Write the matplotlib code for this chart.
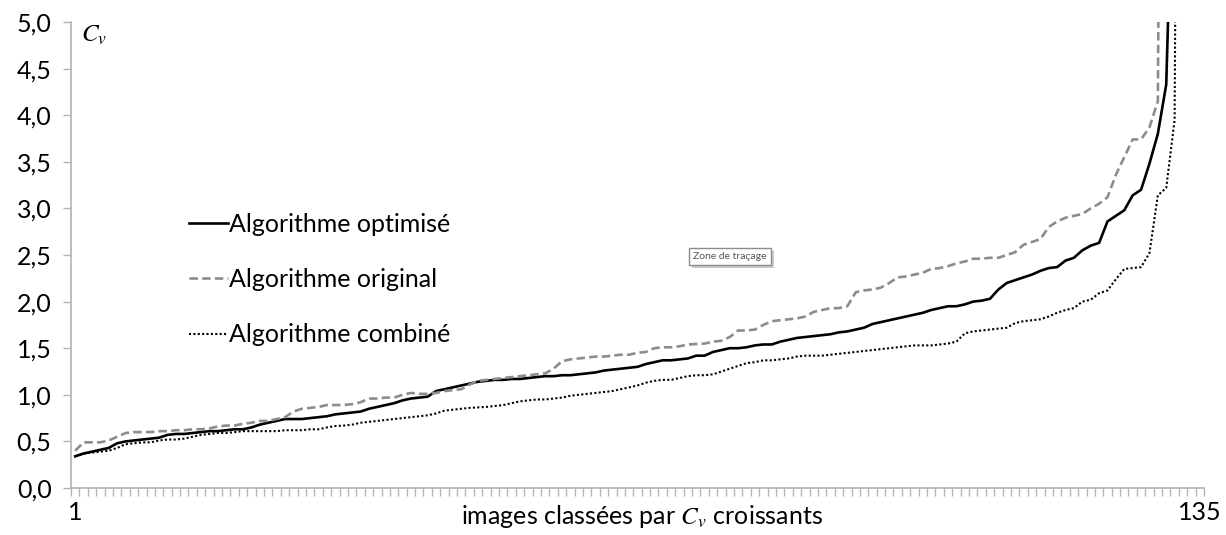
import matplotlib.pyplot as plt
import matplotlib.patheffects as pe
import numpy as np

plt.rcParams['font.family'] = ['Lato', 'DejaVu Sans']
plt.rcParams['mathtext.fontset'] = 'stix'

# images triees par Cv croissant (1..135)
rang = np.arange(1, 136)

cv_optimise = [0.34, 0.37, 0.39, 0.41, 0.43, 0.48, 0.50, 0.51, 0.52, 0.53,
               0.54, 0.57, 0.58, 0.58, 0.59, 0.60, 0.61, 0.61, 0.62, 0.63,
               0.63, 0.65, 0.68, 0.70, 0.72, 0.74, 0.74, 0.74, 0.75, 0.76,
               0.77, 0.79, 0.80, 0.81, 0.82, 0.85, 0.87, 0.89, 0.91, 0.94,
               0.96, 0.97, 0.98, 1.04, 1.06, 1.08, 1.10, 1.12, 1.14, 1.15,
               1.16, 1.16, 1.17, 1.17, 1.18, 1.19, 1.20, 1.20, 1.21, 1.21,
               1.22, 1.23, 1.24, 1.26, 1.27, 1.28, 1.29, 1.30, 1.33, 1.35,
               1.37, 1.37, 1.38, 1.39, 1.42, 1.42, 1.46, 1.48, 1.50, 1.50,
               1.51, 1.53, 1.54, 1.54, 1.57, 1.59, 1.61, 1.62, 1.63, 1.64,
               1.65, 1.67, 1.68, 1.70, 1.72, 1.76, 1.78, 1.80, 1.82, 1.84,
               1.86, 1.88, 1.91, 1.93, 1.95, 1.95, 1.97, 2.00, 2.01, 2.03,
               2.13, 2.20, 2.23, 2.26, 2.29, 2.33, 2.36, 2.37, 2.44, 2.47,
               2.55, 2.60, 2.63, 2.86, 2.92, 2.98, 3.14, 3.20, 3.48, 3.80,
               4.33, 7.5, 12.0, 20.0, 45.0]

cv_original = [0.40, 0.49, 0.49, 0.49, 0.51, 0.55, 0.59, 0.60, 0.60, 0.60,
               0.61, 0.61, 0.62, 0.62, 0.63, 0.63, 0.64, 0.66, 0.67, 0.67,
               0.69, 0.70, 0.72, 0.72, 0.74, 0.76, 0.82, 0.85, 0.86, 0.87,
               0.89, 0.89, 0.89, 0.90, 0.92, 0.96, 0.96, 0.97, 0.97, 1.00,
               1.02, 1.01, 1.01, 1.02, 1.04, 1.05, 1.06, 1.11, 1.15, 1.16,
               1.17, 1.18, 1.19, 1.20, 1.21, 1.22, 1.23, 1.28, 1.36, 1.38,
               1.39, 1.40, 1.41, 1.41, 1.42, 1.43, 1.43, 1.45, 1.46, 1.50,
               1.51, 1.51, 1.52, 1.54, 1.545, 1.55, 1.57, 1.58, 1.62, 1.69,
               1.69, 1.70, 1.75, 1.79, 1.80, 1.81, 1.82, 1.84, 1.89, 1.91,
               1.93, 1.93, 1.95, 2.10, 2.12, 2.13, 2.15, 2.20, 2.26, 2.27,
               2.29, 2.31, 2.35, 2.36, 2.38, 2.41, 2.43, 2.46, 2.46, 2.47,
               2.47, 2.50, 2.53, 2.61, 2.64, 2.67, 2.80, 2.86, 2.90, 2.92,
               2.94, 3.00, 3.05, 3.12, 3.36, 3.55, 3.74, 3.74, 3.87, 4.15,
               18.0, 25.0, 35.0, 50.0, 80.0]

cv_combine = [0.34, 0.37, 0.38, 0.39, 0.40, 0.43, 0.47, 0.48, 0.49, 0.49,
              0.51, 0.52, 0.52, 0.53, 0.55, 0.57, 0.58, 0.59, 0.59, 0.60,
              0.61, 0.61, 0.61, 0.61, 0.61, 0.62, 0.62, 0.62, 0.63, 0.63,
              0.65, 0.665, 0.67, 0.68, 0.70, 0.71, 0.72, 0.73, 0.74, 0.75,
              0.76, 0.77, 0.78, 0.80, 0.83, 0.84, 0.85, 0.86, 0.865, 0.87,
              0.88, 0.89, 0.91, 0.93, 0.94, 0.95, 0.95, 0.96, 0.97, 0.99,
              1.00, 1.01, 1.02, 1.03, 1.04, 1.06, 1.08, 1.10, 1.13, 1.15,
              1.16, 1.16, 1.18, 1.20, 1.21, 1.21, 1.22, 1.25, 1.28, 1.31,
              1.34, 1.35, 1.37, 1.37, 1.38, 1.39, 1.41, 1.42, 1.42, 1.42,
              1.43, 1.44, 1.45, 1.46, 1.47, 1.48, 1.49, 1.50, 1.51, 1.52,
              1.53, 1.53, 1.53, 1.54, 1.55, 1.57, 1.66, 1.68, 1.69, 1.70,
              1.71, 1.72, 1.77, 1.79, 1.80, 1.81, 1.84, 1.88, 1.91, 1.93,
              2.00, 2.02, 2.09, 2.12, 2.24, 2.35, 2.36, 2.37, 2.52, 3.14,
              3.22, 3.95, 20.0, 35.0, 60.0]

noms = ['Algorithme optimisé', 'Algorithme original', 'Algorithme combiné']
y_ticks = [0.0, 0.5, 1.0, 1.5, 2.0, 2.5, 3.0, 3.5, 4.0, 4.5, 5.0]

fig = plt.figure(figsize=(12.26, 5.35), dpi=100)
ax = fig.add_axes([71 / 1226, 47 / 535, 1133 / 1226, 466 / 535])

ax.plot(rang, cv_optimise, color='black', lw=1.9, ls='-', label=noms[0])
ax.plot(rang, cv_original, color='#8c8c8c', lw=1.9, ls=(0, (3.2, 1.6)), label=noms[1])
ax.plot(rang, cv_combine, color='black', lw=1.5, ls=(0, (1, 1.1)), label=noms[2])

ax.set_xlim(0.5, 135.5)
ax.set_ylim(0, 5)

gris = '#b3b3b3'
for s in ['top', 'right']:
    ax.spines[s].set_visible(False)
ax.spines['left'].set_color(gris)
ax.spines['bottom'].set_color(gris)
ax.spines['left'].set_linewidth(1.2)
ax.spines['bottom'].set_linewidth(1.2)

ax.set_yticks(y_ticks)
ax.set_yticklabels([('%.1f' % v).replace('.', ',') for v in y_ticks], fontsize=18)
ax.tick_params(axis='y', length=6, width=1, color=gris, pad=8)

ax.set_xticks([1, 135])
ax.set_xticklabels(['1', '135'], fontsize=18)
ax.set_xticks(np.arange(0.5, 136, 1), minor=True)
ax.tick_params(axis='x', which='major', length=0, pad=9)
ax.tick_params(axis='x', which='minor', length=6, width=1, color=gris)

ax.text(10 / 1133, 1 - 13 / 466, r'$C_v$', transform=ax.transAxes, fontsize=18,
        ha='left', va='center')
fig.text(642 / 1226, 19 / 535, r'images classées par $C_v$ croissants', fontsize=18,
         ha='center', va='center')

leg = ax.legend(loc='center left', bbox_to_anchor=(189 / 1226, 255.5 / 535),
                bbox_transform=fig.transFigure, frameon=False, fontsize=18,
                handlelength=1.55, handletextpad=0.05, labelspacing=1.3,
                borderpad=0, borderaxespad=0)

bulle = fig.text(730 / 1226, 278.5 / 535, 'Zone de traçage', fontsize=7.5, color='#555555',
                 ha='center', va='center',
                 bbox=dict(boxstyle='square,pad=0.4', fc='white', ec='#8c8c8c', lw=1))
bulle.get_bbox_patch().set_path_effects(
    [pe.SimplePatchShadow(offset=(2, -2), shadow_rgbFace='#999999', alpha=0.5), pe.Normal()])

fig.savefig('out.png', dpi=100)
